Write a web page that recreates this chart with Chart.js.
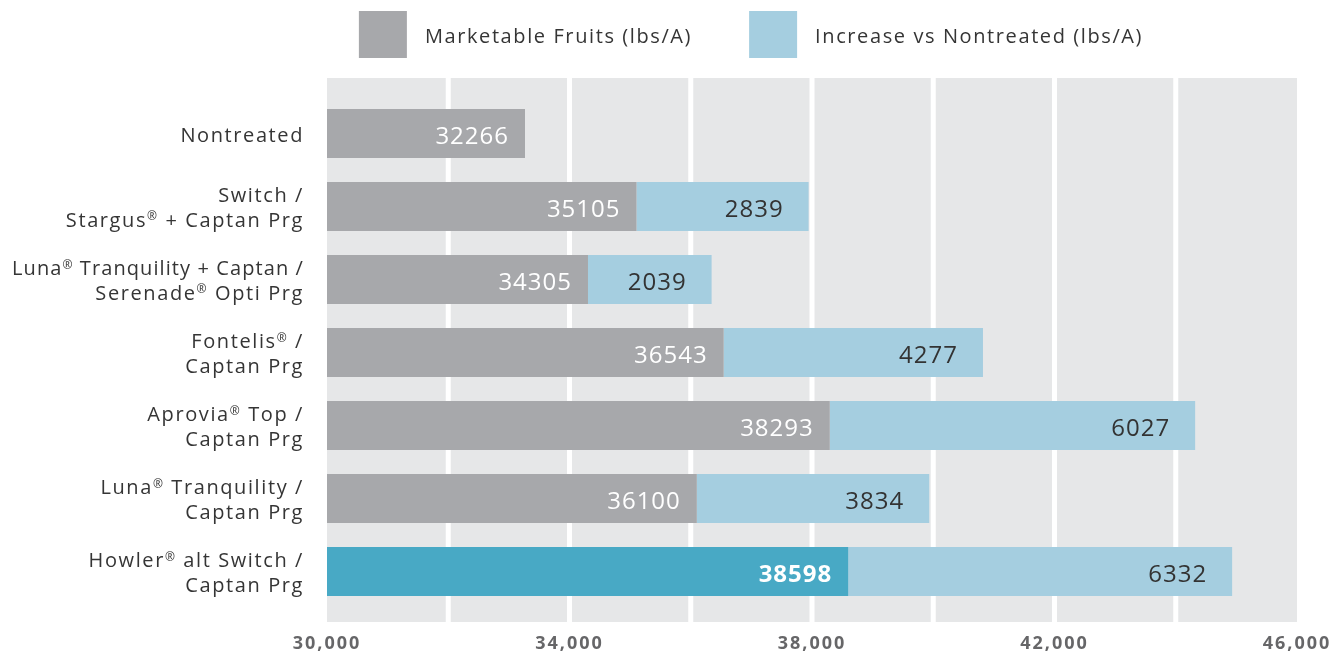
<!DOCTYPE html>
<html>
<head>
<meta charset="utf-8">
<script src="https://cdn.jsdelivr.net/npm/chart.js@4.4.0/dist/chart.umd.min.js"></script>
<style>
html,body{margin:0;padding:0;background:#fff;}
canvas{display:block;}
</style>
</head>
<body>
<canvas id="c" width="1341" height="657"></canvas>
<script>
// ---- data ----
const categories = [
  ['Nontreated'],
  ['Switch /', 'Stargus® + Captan Prg'],
  ['Luna® Tranquility + Captan /', 'Serenade® Opti Prg'],
  ['Fontelis® /', 'Captan Prg'],
  ['Aprovia® Top /', 'Captan Prg'],
  ['Luna® Tranquility /', 'Captan Prg'],
  ['Howler® alt Switch /', 'Captan Prg']
];
const marketable = [33266, 35105, 34305, 36543, 38293, 36100, 38598];
const marketableLabels = ['32266', '35105', '34305', '36543', '38293', '36100', '38598'];
const increase = [null, 2839, 2039, 4277, 6027, 3834, 6332];
const seriesNames = ['Marketable Fruits (lbs/A)', 'Increase vs Nontreated (lbs/A)'];
const xTickLabels = [30000, 34000, 38000, 42000, 46000];

// ---- style ----
const GRAY = '#a7a8ab', BLUE = '#a5cee0', TEAL = '#48a9c5', BG = '#e6e7e8';
const FONT = "'Open Sans', sans-serif";
const TEXT = '#353535';

function measureRich(ctx, parts, big, small) {
  ctx.font = small; const rw = ctx.measureText('®').width;
  ctx.font = big;
  let total = 0;
  parts.forEach(p => total += ctx.measureText(p).width);
  return { total: total + rw * (parts.length - 1), rw };
}

function drawRich(ctx, text, xRight, baseline, size, minLeft) {
  const big = size + 'px ' + FONT, small = Math.round(size * 0.62) + 'px ' + FONT;
  const parts = text.split('®');
  let ls = 1.6;
  ctx.letterSpacing = ls + 'px';
  let m = measureRich(ctx, parts, big, small);
  if (xRight - m.total < minLeft) {
    const over = minLeft - (xRight - m.total);
    ls = Math.max(0, ls - over / text.length);
    ctx.letterSpacing = ls + 'px';
    m = measureRich(ctx, parts, big, small);
  }
  let x = xRight - m.total;
  ctx.textAlign = 'left';
  parts.forEach((p, i) => {
    ctx.font = big;
    ctx.fillText(p, x, baseline);
    x += ctx.measureText(p).width;
    if (i < parts.length - 1) {
      ctx.font = small;
      ctx.fillText('®', x, baseline - size * 0.32);
      x += m.rw;
    }
  });
}

const deco = {
  id: 'deco',
  beforeDraw(chart) {
    const { ctx, chartArea: a, scales: { x } } = chart;
    ctx.save();
    ctx.fillStyle = BG;
    const top = a.top - 19, bottom = a.bottom + 14;
    ctx.fillRect(a.left, top, a.right - a.left, bottom - top);
    ctx.strokeStyle = '#ffffff';
    ctx.lineWidth = 5;
    x.ticks.forEach(t => {
      if (t.value > x.min && t.value < x.max) {
        const px = x.getPixelForValue(t.value);
        ctx.beginPath(); ctx.moveTo(px, top); ctx.lineTo(px, bottom); ctx.stroke();
      }
    });
    ctx.restore();
    ctx.letterSpacing = '2px';
  },
  afterDatasetsDraw(chart) {
    const ctx = chart.ctx;
    ctx.save();
    ctx.letterSpacing = '1px';
    ctx.textAlign = 'right';
    ctx.textBaseline = 'alphabetic';
    const m0 = chart.getDatasetMeta(0), m1 = chart.getDatasetMeta(1);
    m0.data.forEach((bar, i) => {
      const last = i === marketable.length - 1;
      ctx.font = (last ? 'bold ' : '') + '24px ' + FONT;
      ctx.fillStyle = '#ffffff';
      ctx.fillText(marketableLabels[i], bar.x - 16, bar.y + 10);
    });
    m1.data.forEach((bar, i) => {
      if (increase[i] == null) return;
      ctx.font = '24px ' + FONT;
      ctx.fillStyle = '#333333';
      ctx.fillText(String(increase[i]), bar.x - 25, bar.y + 10);
    });
    ctx.restore();
  },
  afterDraw(chart) {
    const { ctx, chartArea: a, scales: { y } } = chart;
    ctx.save();
    ctx.fillStyle = TEXT;
    ctx.textBaseline = 'alphabetic';
    // category labels
    categories.forEach((lines, i) => {
      const cy = y.getPixelForValue(i);
      if (lines.length === 1) {
        drawRich(ctx, lines[0], a.left - 23, cy + 8.5, 20, 12);
      } else {
        drawRich(ctx, lines[0], a.left - 23, cy - 4.5, 20, 12);
        drawRich(ctx, lines[1], a.left - 23, cy + 20, 20, 12);
      }
    });
    // legend
    ctx.letterSpacing = '1.6px';
    const items = chart.data.datasets.map(ds => ({
      text: ds.label,
      color: Array.isArray(ds.backgroundColor) ? ds.backgroundColor[0] : ds.backgroundColor
    }));
    ctx.font = '20px ' + FONT;
    const boxW = 48, boxH = 47, gapBT = 18, gapItems = 57;
    const widths = items.map(it => ctx.measureText(it.text).width);
    let total = 0;
    widths.forEach((w, i) => { total += boxW + gapBT + w; if (i) total += gapItems; });
    let x = 751 - total / 2;
    items.forEach((it, i) => {
      ctx.fillStyle = it.color;
      ctx.fillRect(x, 11, boxW, boxH);
      ctx.fillStyle = TEXT;
      ctx.textAlign = 'left';
      ctx.fillText(it.text, x + boxW + gapBT, 43);
      x += boxW + gapBT + widths[i] + gapItems;
    });
    ctx.restore();
  }
};

new Chart(document.getElementById('c'), {
  type: 'bar',
  data: {
    labels: categories.map(l => l.join(' ')),
    datasets: [
      {
        label: seriesNames[0],
        data: marketable,
        backgroundColor: marketable.map((v, i) => i === marketable.length - 1 ? TEAL : GRAY),
        barPercentage: 0.67, categoryPercentage: 1.0
      },
      {
        label: seriesNames[1],
        data: increase,
        backgroundColor: BLUE,
        barPercentage: 0.67, categoryPercentage: 1.0
      }
    ]
  },
  options: {
    indexAxis: 'y',
    responsive: false,
    animation: false,
    devicePixelRatio: 1,
    layout: { padding: { left: 327, right: 44, top: 97, bottom: 0 } },
    plugins: { legend: { display: false }, tooltip: { enabled: false } },
    scales: {
      x: {
        stacked: true,
        min: 30000, max: 46000,
        grid: { display: false, drawTicks: false },
        border: { display: false },
        afterFit: (s) => { s.height = 49; s.paddingLeft = 0; s.paddingRight = 0; },
        ticks: {
          stepSize: 2000, autoSkip: false, maxRotation: 0, minRotation: 0, padding: 25,
          color: '#666668',
          font: { family: FONT, size: 18, weight: 'bold' },
          callback: (v) => xTickLabels.includes(v) ? v.toLocaleString('en-US') : ''
        }
      },
      y: { stacked: true, display: false }
    }
  },
  plugins: [deco]
});
</script>
</body>
</html>
